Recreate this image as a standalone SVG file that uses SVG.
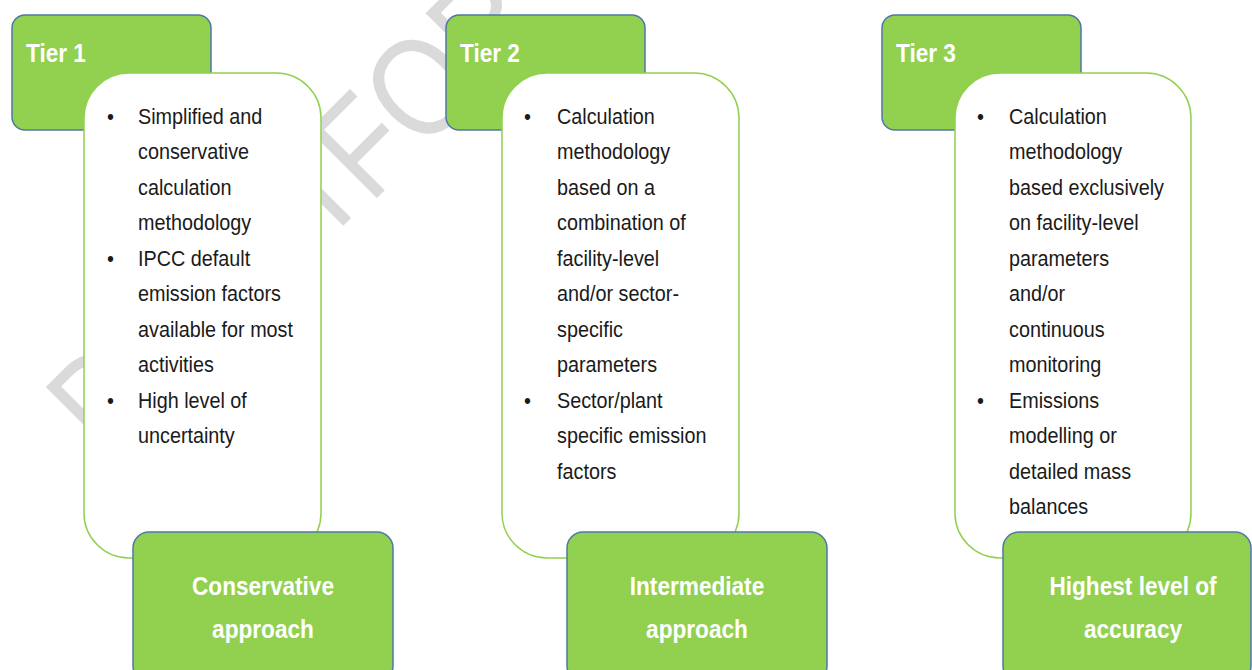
<svg xmlns="http://www.w3.org/2000/svg" width="1252" height="670" viewBox="0 0 1252 670">
<style>
.wm{font-family:"Liberation Sans",Arial,sans-serif;font-size:140px;fill:#dadada}
.hdr{fill:#92D050;stroke:#4F77A5;stroke-width:1.5}
.card{fill:#ffffff;stroke:#92D050;stroke-width:1.5}
.lbl{font-family:"Liberation Sans",Arial,sans-serif;font-weight:bold;font-size:26px;fill:#ffffff}
.body{font-family:"Liberation Sans",Arial,sans-serif;font-size:22px;fill:#1a1a1a}
</style>
<rect width="1252" height="670" fill="#ffffff"/>
<g id="watermark">
<text class="wm" transform="translate(107,462) rotate(-45) scale(0.85,1)" letter-spacing="-6">DRAFT</text>
<text class="wm" transform="translate(370,205) rotate(-45) scale(0.85,1)">FOR</text>
</g>
<g id="tier1">
<rect class="hdr" x="12" y="15" width="199" height="115" rx="13"/>
<g transform="translate(26,62) scale(0.87,1)"><text class="lbl" x="0" y="0">Tier 1</text></g>
<rect class="card" x="84" y="73" width="237" height="485" rx="45"/>
<g transform="translate(107,124) scale(0.9,1)"><text class="body" x="0" y="0">•<tspan x="0" dy="142">•</tspan><tspan x="0" dy="142">•</tspan></text></g>
<g transform="translate(138,124) scale(0.9,1)"><text class="body" x="0" y="0">Simplified and<tspan x="0" dy="35.5">conservative</tspan><tspan x="0" dy="35.5">calculation</tspan><tspan x="0" dy="35.5">methodology</tspan><tspan x="0" dy="35.5">IPCC default</tspan><tspan x="0" dy="35.5">emission factors</tspan><tspan x="0" dy="35.5">available for most</tspan><tspan x="0" dy="35.5">activities</tspan><tspan x="0" dy="35.5">High level of</tspan><tspan x="0" dy="35.5">uncertainty</tspan></text></g>
<rect class="hdr" x="133" y="532" width="260" height="150" rx="16"/>
<g transform="translate(263,595) scale(0.87,1)"><text class="lbl" x="0" y="0" text-anchor="middle">Conservative<tspan x="0" dy="43">approach</tspan></text></g>
</g>
<g id="tier2">
<rect class="hdr" x="446" y="15" width="199" height="115" rx="13"/>
<g transform="translate(460,62) scale(0.87,1)"><text class="lbl" x="0" y="0">Tier 2</text></g>
<rect class="card" x="502" y="73" width="237" height="485" rx="45"/>
<g transform="translate(524,124) scale(0.9,1)"><text class="body" x="0" y="0">•<tspan x="0" dy="284">•</tspan></text></g>
<g transform="translate(557,124) scale(0.9,1)"><text class="body" x="0" y="0">Calculation<tspan x="0" dy="35.5">methodology</tspan><tspan x="0" dy="35.5">based on a</tspan><tspan x="0" dy="35.5">combination of</tspan><tspan x="0" dy="35.5">facility-level</tspan><tspan x="0" dy="35.5">and/or sector-</tspan><tspan x="0" dy="35.5">specific</tspan><tspan x="0" dy="35.5">parameters</tspan><tspan x="0" dy="35.5">Sector/plant</tspan><tspan x="0" dy="35.5">specific emission</tspan><tspan x="0" dy="35.5">factors</tspan></text></g>
<rect class="hdr" x="567" y="532" width="260" height="150" rx="16"/>
<g transform="translate(697,595) scale(0.87,1)"><text class="lbl" x="0" y="0" text-anchor="middle">Intermediate<tspan x="0" dy="43">approach</tspan></text></g>
</g>
<g id="tier3">
<rect class="hdr" x="882" y="15" width="199" height="115" rx="13"/>
<g transform="translate(896,62) scale(0.87,1)"><text class="lbl" x="0" y="0">Tier 3</text></g>
<rect class="card" x="955" y="73" width="236" height="485" rx="45"/>
<g transform="translate(977,124) scale(0.9,1)"><text class="body" x="0" y="0">•<tspan x="0" dy="284">•</tspan></text></g>
<g transform="translate(1009,124) scale(0.9,1)"><text class="body" x="0" y="0">Calculation<tspan x="0" dy="35.5">methodology</tspan><tspan x="0" dy="35.5">based exclusively</tspan><tspan x="0" dy="35.5">on facility-level</tspan><tspan x="0" dy="35.5">parameters</tspan><tspan x="0" dy="35.5">and/or</tspan><tspan x="0" dy="35.5">continuous</tspan><tspan x="0" dy="35.5">monitoring</tspan><tspan x="0" dy="35.5">Emissions</tspan><tspan x="0" dy="35.5">modelling or</tspan><tspan x="0" dy="35.5">detailed mass</tspan><tspan x="0" dy="35.5">balances</tspan></text></g>
<rect class="hdr" x="1003" y="532" width="248" height="150" rx="16"/>
<g transform="translate(1133,595) scale(0.87,1)"><text class="lbl" x="0" y="0" text-anchor="middle">Highest level of<tspan x="0" dy="43">accuracy</tspan></text></g>
</g>
<g id="connectors"></g>
</svg>
